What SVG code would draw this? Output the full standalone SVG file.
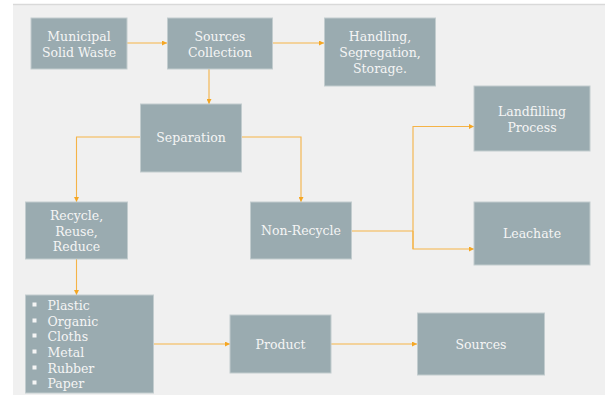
<svg xmlns="http://www.w3.org/2000/svg" width="605" height="395" viewBox="0 0 605 395">
<style>
.box{fill:#9aabb0;stroke:#c2ccce;stroke-width:1}
.t{font-family:"DejaVu Serif","Liberation Serif",serif;font-size:12.5px;fill:#f5f5f5;text-anchor:middle}
.l{font-family:"DejaVu Serif","Liberation Serif",serif;font-size:12.5px;fill:#f5f5f5}
.c{fill:none;stroke:#f5b347;stroke-width:1.1}
</style>
<defs>
<marker id="ah" viewBox="0 0 6 6" refX="6" refY="3" markerWidth="5" markerHeight="5" orient="auto" markerUnits="userSpaceOnUse">
<path d="M0,0 L6,3 L0,6 z" fill="#f5a623"/>
</marker>
</defs>
<rect x="0" y="0" width="605" height="395" fill="#ffffff"/>
<rect x="13" y="5" width="592" height="390" fill="#f0f0f0"/>
<line x1="13" y1="4.5" x2="605" y2="4.5" stroke="#d9d9d9" stroke-width="1.5"/>
<g id="connectors">
<path class="c" d="M127,43 H167" marker-end="url(#ah)"/>
<path class="c" d="M273,43 H324" marker-end="url(#ah)"/>
<path class="c" d="M209,69 V104" marker-end="url(#ah)"/>
<path class="c" d="M140,137 H76.5 V202" marker-end="url(#ah)"/>
<path class="c" d="M242,137 H301 V202" marker-end="url(#ah)"/>
<path class="c" d="M352,231 H413"/>
<path class="c" d="M413,249 V126.5 H474" marker-end="url(#ah)"/>
<path class="c" d="M413,231 V249 H474" marker-end="url(#ah)"/>
<path class="c" d="M76.5,259 V295" marker-end="url(#ah)"/>
<path class="c" d="M154,344 H230" marker-end="url(#ah)"/>
<path class="c" d="M331,344 H417" marker-end="url(#ah)"/>
</g>
<g id="municipal">
<rect class="box" x="31" y="18" width="96" height="51"/>
<text class="t" x="79" y="40.5">Municipal</text>
<text class="t" x="79" y="56.5">Solid Waste</text>
</g>
<g id="sources-collection">
<rect class="box" x="167.5" y="18" width="105" height="51"/>
<text class="t" x="220" y="40.5">Sources</text>
<text class="t" x="220" y="56.5">Collection</text>
</g>
<g id="handling">
<rect class="box" x="324.5" y="18" width="111" height="68"/>
<text class="t" x="380" y="40.5">Handling,</text>
<text class="t" x="380" y="57">Segregation,</text>
<text class="t" x="380" y="72.5">Storage.</text>
</g>
<g id="separation">
<rect class="box" x="140.5" y="104" width="101" height="68"/>
<text class="t" x="191" y="141.5">Separation</text>
</g>
<g id="landfilling">
<rect class="box" x="474" y="86" width="116" height="65"/>
<text class="t" x="532" y="115.5">Landfilling</text>
<text class="t" x="532" y="131.5">Process</text>
</g>
<g id="recycle">
<rect class="box" x="25.5" y="202" width="102" height="57"/>
<text class="t" x="76.5" y="220">Recycle,</text>
<text class="t" x="76.5" y="236">Reuse,</text>
<text class="t" x="76.5" y="251">Reduce</text>
</g>
<g id="non-recycle">
<rect class="box" x="250.5" y="202" width="101" height="57"/>
<text class="t" x="301" y="235">Non-Recycle</text>
</g>
<g id="leachate">
<rect class="box" x="474" y="202" width="116" height="63"/>
<text class="t" x="532" y="237.5">Leachate</text>
</g>
<g id="materials">
<rect class="box" x="25.5" y="295" width="128" height="98"/>
<g fill="#f5f5f5">
<rect x="32.5" y="302.5" width="4" height="4"/>
<rect x="32.5" y="318.5" width="4" height="4"/>
<rect x="32.5" y="333.5" width="4" height="4"/>
<rect x="32.5" y="349.5" width="4" height="4"/>
<rect x="32.5" y="365.5" width="4" height="4"/>
<rect x="32.5" y="380.5" width="4" height="4"/>
</g>
<text class="l" x="47.5" y="309.5">Plastic</text>
<text class="l" x="47.5" y="325.5">Organic</text>
<text class="l" x="47.5" y="340.5">Cloths</text>
<text class="l" x="47.5" y="356.5">Metal</text>
<text class="l" x="47.5" y="372.5">Rubber</text>
<text class="l" x="47.5" y="387.5">Paper</text>
</g>
<g id="product">
<rect class="box" x="230" y="315" width="101" height="58"/>
<text class="t" x="280.5" y="348.5">Product</text>
</g>
<g id="sources">
<rect class="box" x="417.5" y="313" width="127" height="62"/>
<text class="t" x="481" y="348.5">Sources</text>
</g>
</svg>
